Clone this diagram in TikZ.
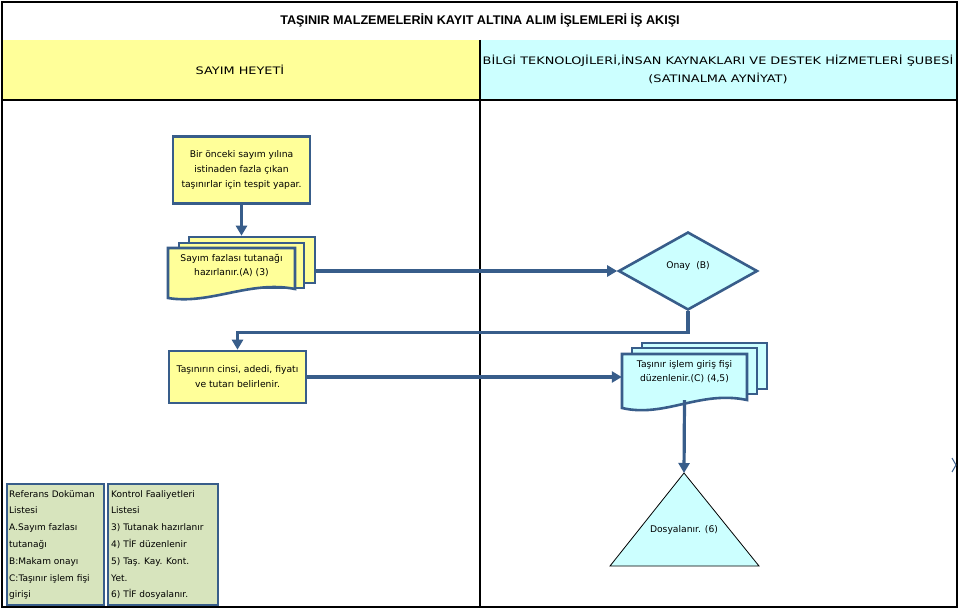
\documentclass[tikz,border=0pt]{standalone}
\usepackage{fontspec}
\setmainfont{DejaVu Sans}
\newfontfamily\hdrfont{DejaVu Sans}[FakeStretch=1.25]
\newfontfamily\titlefont{Liberation Sans}
\usetikzlibrary{arrows.meta,shapes.geometric}
\definecolor{boxyellow}{HTML}{FFFF99}
\definecolor{hdryellow}{HTML}{FFFF99}
\definecolor{boxcyan}{HTML}{CCFFFF}
\definecolor{edgeblue}{HTML}{385D8A}
\definecolor{refgreen}{HTML}{D7E4BD}
\tikzset{
  frameline/.style={draw=black, line width=2pt},
  ybox/.style={draw=edgeblue, line width=2.6pt, fill=boxyellow, inner sep=0pt, align=center,
    font=\fontsize{9.2}{15}\selectfont},
  docpage/.style={draw=edgeblue, line width=2.6pt, inner sep=0pt},
  conn/.style={draw=edgeblue, line width=3.2pt, -{Triangle[length=10pt,width=11pt]}},
  txt/.style={inner sep=0pt, align=center, font=\fontsize{9.2}{14}\selectfont},
  reftxt/.style={inner sep=0pt, align=left, font=\fontsize{9}{16.8}\selectfont},
  refbox/.style={draw=edgeblue, line width=2.6pt, fill=refgreen, inner sep=0pt},
}
\begin{document}
\begin{tikzpicture}[x=1pt,y=-1pt]
\useasboundingbox (0,0) rectangle (960,612);
\fill[white] (0,0) rectangle (960,612);
% header backgrounds
\fill[hdryellow] (3,40) rectangle (480,100);
\fill[boxcyan] (480,40) rectangle (956,100);
% frame
\draw[frameline] (2,2) rectangle (957,607);
\draw[frameline] (2,100) -- (957,100);
\draw[frameline] (480,40) -- (480,607);
% titles
\node[inner sep=0pt, font=\titlefont\bfseries\fontsize{12.6}{14}\selectfont] (title) at (480,20) {TAŞINIR MALZEMELERİN KAYIT ALTINA ALIM İŞLEMLERİ İŞ AKIŞI};
\node[inner sep=0pt, font=\hdrfont\fontsize{10.3}{13}\selectfont] (h1) at (240,70) {SAYIM HEYETİ};
\node[inner sep=0pt, align=center, font=\hdrfont\fontsize{10.3}{18}\selectfont] (h2) at (718,69) {BİLGİ TEKNOLOJİLERİ,İNSAN KAYNAKLARI VE DESTEK HİZMETLERİ ŞUBESİ\\(SATINALMA AYNİYAT)};
% box 1
\node[ybox, minimum width=137pt, minimum height=67pt] (b1) at (241.5,170) {Bir önceki sayım yılına\\istinaden fazla çıkan\\taşınırlar için tespit yapar.};
% document stack 1
\node[docpage, fill=boxyellow, minimum width=126pt, minimum height=46pt] (d1c) at (252,260) {};
\node[docpage, fill=boxyellow, minimum width=125pt, minimum height=45pt] (d1b) at (241.5,265.5) {};
\draw[docpage, fill=boxyellow] (168,248) -- (295,248) -- (295,289) .. controls (250,280) and (210,305) .. (168,298) -- cycle;
\node[txt] (d1t) at (231.5,265.5) {Sayım fazlası tutanağı\\hazırlanır.(A) (3)};
% diamond
\node[diamond, draw=edgeblue, line width=2.6pt, fill=boxcyan, aspect=1.78, minimum width=139pt, minimum height=78pt, inner sep=0pt] (dia) at (688,271) {};
\node[txt] (diat) at (688,266) {Onay\ \ (B)};
% box 2
\node[ybox, minimum width=137pt, minimum height=52pt] (b2) at (237.5,377) {Taşınırın cinsi, adedi, fiyatı\\ve tutarı belirlenir.};
% document stack 2
\node[docpage, fill=boxcyan, minimum width=125pt, minimum height=46pt] (d2c) at (704.5,366) {};
\node[docpage, fill=boxcyan, minimum width=125pt, minimum height=46pt] (d2b) at (694.5,371) {};
\node[inner sep=0pt, minimum width=125pt, minimum height=46pt] (d2f) at (684.5,377) {};
\draw[docpage, fill=boxcyan] (622,354) -- (747,354) -- (747,400) .. controls (700,390) and (665,418) .. (622,408) -- cycle;
\node[txt] (d2t) at (684.5,371.5) {Taşınır işlem giriş fişi\\düzenlenir.(C) (4,5)};
% triangle
\coordinate (triapex) at (684,473);
\draw[draw=black, line width=0.8pt, fill=boxcyan] (triapex) -- (759,566) -- (610,566) -- cycle;
\node[txt] (trit) at (684,530) {Dosyalanır. (6)};
% reference boxes
\node[refbox, minimum width=97pt, minimum height=121pt] (ra) at (55.5,544.5) {};
\node[refbox, minimum width=110pt, minimum height=121pt] (rb) at (163,544.5) {};
\node[reftxt, anchor=north west] (rat) at (9,490) {Referans Doküman\\Listesi\\A.Sayım fazlası\\tutanağı\\B:Makam onayı\\C:Taşınır işlem fişi\\girişi};
\node[reftxt, anchor=north west] (rbt) at (111,490) {Kontrol Faaliyetleri\\Listesi\\3) Tutanak hazırlanır\\4) TİF düzenlenir\\5) Taş. Kay. Kont.\\Yet.\\6) TİF dosyalanır.};
% small clipped mark at right edge
\draw[edgeblue, line width=1pt] (952,458) -- (956,465) -- (952,472);
% connectors
\draw[conn] (b1.south) -- (b1.south |- d1c.north);
\draw[conn] (d1c.east |- dia.west) -- (dia.west);
\draw[conn] (dia.south) -- ++(0,21) -| (b2.north);
\draw[conn] (b2.east) -- (b2.east -| d2f.west);
\draw[conn] (d2f.south) -- (triapex);
\end{tikzpicture}
\end{document}
